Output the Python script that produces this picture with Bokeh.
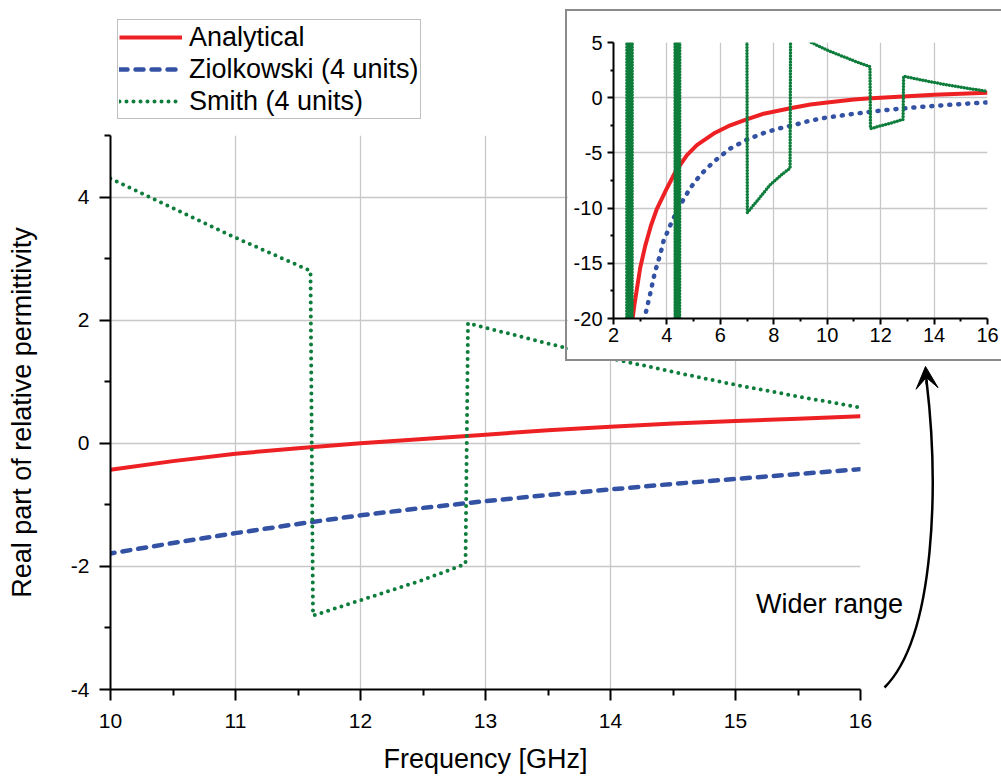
from bokeh.plotting import figure
from bokeh.models import FixedTicker, Label, Arrow, VeeHead, Range1d
from bokeh.embed import file_html
from bokeh.resources import INLINE

FONT = "Liberation Sans"
RED = "#ed2024"
BLUE = "#3452a4"
GREEN = "#0e7d3c"
NAN = float("nan")

# ---------------- data ----------------
freq_analytical = [2.70, 2.78, 3.00, 3.19, 3.40, 3.62, 4.00, 4.31, 4.75, 5.12, 5.75, 6.37,
                   6.93, 7.62, 8.62, 9.37, 10.0, 10.5, 11.0, 11.5, 12.0, 12.5, 13.0, 13.5,
                   14.0, 14.5, 15.0, 15.5, 16.0]
eps_analytical = [-20.3, -18.8, -15.4, -13.4, -11.6, -10.1, -8.2, -6.75, -5.2, -4.3, -3.25, -2.5,
                  -2.0, -1.45, -0.95, -0.62, -0.43, -0.29, -0.17, -0.08, 0.0, 0.07, 0.14, 0.21,
                  0.27, 0.32, 0.36, 0.40, 0.44]

freq_ziolkowski = [3.10, 3.16, 3.37, 3.55, 3.75, 3.87, 4.19, 4.50, 4.87, 5.25, 5.75, 6.37,
                   7.00, 7.62, 8.24, 8.87, 9.37, 10.0, 10.5, 11.0, 11.5, 12.0, 12.5, 13.0,
                   13.5, 14.0, 14.5, 15.0, 15.5, 16.0]
eps_ziolkowski = [-21.0, -20.0, -17.8, -15.8, -14.2, -13.0, -11.2, -9.7, -8.2, -7.0, -5.8, -4.6,
                  -3.8, -3.2, -2.76, -2.4, -2.07, -1.79, -1.62, -1.46, -1.31, -1.17, -1.05, -0.94,
                  -0.84, -0.75, -0.66, -0.58, -0.50, -0.42]

freq_smith = [2.00, 2.49, 2.51, 2.53, 2.55, 2.57, 2.59, 2.61, 2.63, 2.65, 2.67, 2.69, 2.71, 2.72,
              4.30, 4.31, 4.33, 4.35, 4.37, 4.39, 4.41, 4.43, 4.45, 4.47, 4.49,
              5.50, 6.50, 6.99, 7.01, 7.37, 7.87, 8.37, 8.61, 8.63, 9.40, 10.0, 10.5, 11.0,
              11.60, 11.62, 12.0, 12.5, 12.84, 12.86, 13.5, 14.0, 14.5, 15.0, 15.5, 16.0]
eps_smith = [-60, -60, 60, -60, 60, -60, 60, -60, 60, -60, 60, -60, 60, 60,
             60, -60, 60, -60, 60, -60, 60, -60, 60, -60, 60,
             20.0, 12.0, 10.0, -10.4, -9.37, -7.87, -6.82, -6.4, 7.0, 5.0, 4.30, 3.82, 3.34,
             2.80, -2.80, -2.55, -2.22, -1.96, 1.95, 1.62, 1.38, 1.16, 0.95, 0.76, 0.58]

series_names = ["Analytical", "Ziolkowski (4 units)", "Smith (4 units)"]

main_xticks = [10, 11, 12, 13, 14, 15, 16]
main_xminor = [10.5, 11.5, 12.5, 13.5, 14.5, 15.5]
main_yticks = [-4, -2, 0, 2, 4]
main_yminor = [-3, -1, 1, 3, 5]
inset_xticks = [2, 4, 6, 8, 10, 12, 14, 16]
inset_xminor = [3, 5, 7, 9, 11, 13, 15]
inset_yticks = [-20, -15, -10, -5, 0, 5]
inset_yminor = [-17.5, -12.5, -7.5, -2.5, 2.5]

STYLE_MAIN = [dict(line_color=RED, line_width=4),
              dict(line_color=BLUE, line_width=4.5, line_dash="8 8", line_cap="round"),
              dict(line_color=GREEN, line_width=4, line_dash="0 7", line_cap="round")]
STYLE_INSET = [dict(line_color=RED, line_width=4),
               dict(line_color=BLUE, line_width=4.5, line_dash="1 8", line_cap="round"),
               dict(line_color=GREEN, line_width=3.5, line_dash="0 3", line_cap="round")]


def hyphen_labels(ticks):
    return {t: str(t) for t in ticks if t < 0}


def style_axes(fig, tick_font, major_out, minor_out, xstand, ystand):
    for ax in fig.axis:
        ax.axis_line_width = 2
        ax.axis_line_color = "black"
        ax.major_tick_line_width = 2
        ax.minor_tick_line_width = 2
        ax.major_tick_line_color = "black"
        ax.minor_tick_line_color = "black"
        ax.major_tick_in = 0
        ax.minor_tick_in = 0
        ax.major_tick_out = major_out
        ax.minor_tick_out = minor_out
        ax.major_label_text_font = FONT
        ax.major_label_text_font_size = tick_font
        ax.major_label_text_color = "black"
        ax.axis_label_text_font = FONT
        ax.axis_label_text_font_style = "normal"
        ax.axis_label_text_font_size = "27px"
        ax.axis_label_text_color = "black"
    fig.xaxis.major_label_standoff = xstand
    fig.yaxis.major_label_standoff = ystand


series = [(freq_analytical, eps_analytical), (freq_ziolkowski, eps_ziolkowski), (freq_smith, eps_smith)]

# ---------------- main plot ----------------
main = figure(width=1001, height=776, output_backend="svg", toolbar_location=None,
              x_range=Range1d(10, 16), y_range=Range1d(-4, 5),
              min_border_left=110, min_border_right=141, min_border_top=135, min_border_bottom=87,
              x_axis_label="Frequency [GHz]", y_axis_label="Real part of relative permittivity")
main.outline_line_color = None
for (xs, ys), st in zip(series, STYLE_MAIN):
    main.line(xs, ys, **st)

main.xaxis.ticker = FixedTicker(ticks=main_xticks, minor_ticks=main_xminor)
main.yaxis.ticker = FixedTicker(ticks=main_yticks, minor_ticks=main_yminor)
main.yaxis.major_label_overrides = hyphen_labels(main_yticks)
main.xgrid.ticker = FixedTicker(ticks=main_xticks[1:-1])
main.ygrid.ticker = FixedTicker(ticks=main_yticks[1:])
for g in (main.xgrid, main.ygrid):
    g.grid_line_color = "#c8c8c8"
    g.grid_line_width = 1.3
style_axes(main, "21px", 11, 6, 13, 10)
main.xaxis.axis_label_standoff = 13
main.yaxis.axis_label_standoff = 31

# ---------------- overlay (legend, note, arrow), in page pixels ----------------
over = figure(width=1001, height=776, output_backend="svg", toolbar_location=None,
              x_range=Range1d(0, 1001), y_range=Range1d(776, 0),
              x_axis_location=None, y_axis_location=None,
              min_border_left=0, min_border_right=0, min_border_top=0, min_border_bottom=0,
              styles={"position": "absolute", "left": "0px", "top": "0px"})
over.outline_line_color = None
over.background_fill_alpha = 0
over.border_fill_alpha = 0
over.xgrid.visible = False
over.ygrid.visible = False
# legend keys only: one undefined point each, nothing is drawn in the plot
for name, st in zip(series_names, STYLE_MAIN):
    over.line([NAN], [NAN], legend_label=name, **st)

lg = over.legend[0]
lg.location = (117, 657)
lg.margin = 0
lg.padding = 1
lg.spacing = 0
lg.glyph_width = 63
lg.glyph_height = 32
lg.label_height = 32
lg.label_standoff = 7
lg.label_text_font = FONT
lg.label_text_font_size = "27px"
lg.label_text_color = "black"
lg.border_line_color = "#808080"
lg.border_line_width = 1.5
lg.background_fill_color = "white"
lg.background_fill_alpha = 1

over.add_layout(Label(x=829, y=603, text="Wider range", text_align="center",
                      text_baseline="middle", text_font=FONT, text_font_size="27px",
                      text_color="black"))
over.bezier(x0=[884], y0=[687], x1=[926], y1=[380], cx0=[936], cy0=[635], cx1=[938], cy1=[480],
            line_color="black", line_width=2.5)
over.add_layout(Arrow(x_start=926.3, y_start=384, x_end=925, y_end=366,
                      line_color="black", line_width=2.5,
                      end=VeeHead(size=22, fill_color="black", line_color="black", line_width=1)))

# ---------------- inset ----------------
inset = figure(width=434, height=348, output_backend="svg", toolbar_location=None,
               x_range=Range1d(2, 16), y_range=Range1d(-20, 5),
               min_border_left=46, min_border_right=14, min_border_top=31, min_border_bottom=41,
               styles={"position": "absolute", "left": "567px", "top": "11px",
                       "outline": "2px solid #8a8a8a"})
inset.outline_line_color = None
for (xs, ys), st in zip(series, STYLE_INSET):
    inset.line(xs, ys, **st)
inset.xaxis.ticker = FixedTicker(ticks=inset_xticks, minor_ticks=inset_xminor)
inset.yaxis.ticker = FixedTicker(ticks=inset_yticks, minor_ticks=inset_yminor)
inset.yaxis.major_label_overrides = hyphen_labels(inset_yticks)
inset.xgrid.ticker = FixedTicker(ticks=inset_xticks[1:-1])
inset.ygrid.ticker = FixedTicker(ticks=inset_yticks[1:-1])
for g in (inset.xgrid, inset.ygrid):
    g.grid_line_color = "#c8c8c8"
    g.grid_line_width = 1.3
style_axes(inset, "20px", 6, 3, 3, 5)

open("out.html", "w").write(file_html([main, over, inset], INLINE))
